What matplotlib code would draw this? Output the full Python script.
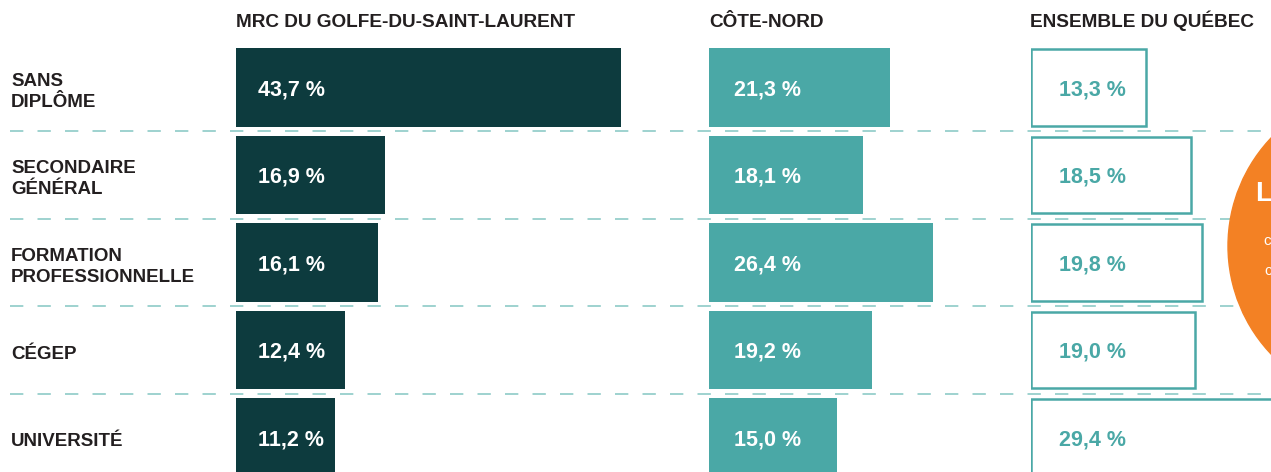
import matplotlib
matplotlib.use("Agg")
import matplotlib.pyplot as plt
from matplotlib.patches import Circle

plt.rcParams['font.family'] = ['Liberation Sans', 'DejaVu Sans']

# Data
categories = ['SANS\nDIPLÔME', 'SECONDAIRE\nGÉNÉRAL', 'FORMATION\nPROFESSIONNELLE',
              'CÉGEP', 'UNIVERSITÉ']
regions = ['MRC DU GOLFE-DU-SAINT-LAURENT', 'CÔTE-NORD', 'ENSEMBLE DU QUÉBEC']
mrc = [43.7, 16.9, 16.1, 12.4, 11.2]
cote_nord = [21.3, 18.1, 26.4, 19.2, 15.0]
quebec = [13.3, 18.5, 19.8, 19.0, 29.4]

dark = '#0d3b3e'
teal = '#4aa8a6'
dash_col = '#8ecbc7'
text_col = '#231f20'
orange = '#f38124'

W, H = 1271, 472
fig = plt.figure(figsize=(W / 100, H / 100), dpi=100)

# background axes in pixel units (separators, headers, circle)
bg = fig.add_axes([0, 0, 1, 1])
bg.set_xlim(0, W)
bg.set_ylim(H, 0)
bg.axis('off')

pitch = 87.5
ylim = (H / pitch - 1.0, -1.0)

for i in range(len(categories) - 1):
    bg.plot([10, W], [pitch * (i + 1.5)] * 2, color=dash_col, lw=1.2,
            linestyle=(0, (8, 8.5)), zorder=1)


def panel(x0, width, xmax):
    ax = fig.add_axes([x0 / W, 0, width / W, 1])
    ax.set_xlim(0, xmax)
    ax.set_ylim(*ylim)
    ax.axis('off')
    ax.patch.set_alpha(0)
    return ax


ax1 = panel(236, 440, 50)
ax2 = panel(709, 425, 50)
ax3 = panel(1031, 240, 240 / 8.65)

ys = list(range(len(categories)))
ax1.barh(ys, mrc, height=0.9, color=dark, zorder=2)
ax2.barh(ys, cote_nord, height=0.9, color=teal, zorder=2)
ax3.barh(ys, quebec, height=0.875, facecolor='white', edgecolor=teal,
         linewidth=1.8, zorder=2)

# value labels, offset in points from the bar start
for ax, vals, col, off in [(ax1, mrc, 'white', 16), (ax2, cote_nord, 'white', 18),
                           (ax3, quebec, teal, 20)]:
    for y, v in zip(ys, vals):
        ax.annotate(f'{v:.1f} %'.replace('.', ','), xy=(0, y),
                    xytext=(off, -1.5), textcoords='offset points',
                    va='center', ha='left', color=col, fontsize=15.5,
                    fontweight='bold', zorder=3)

# row labels, placed from the left panel's rows
for y, lab in zip(ys, categories):
    ax1.annotate(lab, xy=(0, y), xytext=(-(236 - 11) * 0.72, -3),
                 textcoords='offset points', va='center', ha='left',
                 fontsize=13.5, fontweight='bold', color=text_col,
                 linespacing=1.3, annotation_clip=False)

# headers
for x, name in zip([236, 709, 1030], regions):
    bg.text(x, 27, name, va='baseline', ha='left', fontsize=13.7,
            fontweight='bold', color=text_col)

# orange callout, mostly outside the frame (only its first letters show)
bg.add_patch(Circle((1385, 246), 157, color=orange, zorder=4))
bg.text(1255, 201, 'L', color='white', fontsize=20,
        fontweight='bold', va='baseline', ha='left', zorder=5)
bg.text(1263, 245, 'c', color='white', fontsize=11,
        va='baseline', ha='left', zorder=5)
bg.text(1264, 275, 'c', color='white', fontsize=11,
        va='baseline', ha='left', zorder=5)

fig.savefig('out.png', dpi=100)
